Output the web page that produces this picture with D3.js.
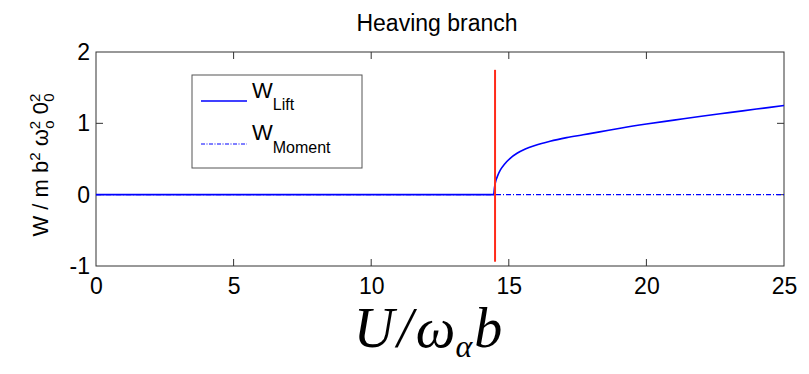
<!DOCTYPE html>
<html>
<head>
<meta charset="utf-8">
<script src="https://cdn.jsdelivr.net/npm/d3@7"></script>
<style>
  body { margin: 0; background: #fff; }
  text { font-family: "Liberation Sans", Arial, sans-serif; fill: #000; }
  text.math { font-family: "Liberation Serif", "Times New Roman", serif; font-style: italic; }
</style>
</head>
<body>
<svg id="chart" width="809" height="374"></svg>
<script>
// airspeed values (U / omega_alpha b)
const uValues = [0, 14.45, 14.48, 14.52, 14.6, 14.7, 14.85, 15.05, 15.3, 15.6, 15.95, 16.5, 17.1, 17.7, 18.3, 19.1, 20, 21, 22, 23, 24, 25];
// lift work
const liftValues = [0, 0, 0.1, 0.18, 0.27, 0.35, 0.43, 0.51, 0.58, 0.64, 0.69, 0.75, 0.8, 0.84, 0.88, 0.935, 0.99, 1.045, 1.1, 1.15, 1.2, 1.25];
// moment work
const momentU = [0, 25];
const momentValues = [0, 0];
// critical speed marker
const flutterU = [14.5, 14.5];
const flutterY = [-0.94, 1.75];

const xTicks = [0, 5, 10, 15, 20, 25];
const yTicks = [-1, 0, 1, 2];

const svg = d3.select("#chart");
const M = { left: 96, right: 784, top: 52, bottom: 266 };

const X_SCALE = d3.scaleLinear().domain([0, 25]).range([M.left, M.right]);
const Y_SCALE = d3.scaleLinear().domain([-1, 2]).range([M.bottom, M.top]);

// frame
svg.append("rect")
  .attr("x", M.left).attr("y", M.top)
  .attr("width", M.right - M.left).attr("height", M.bottom - M.top)
  .attr("fill", "none").attr("stroke", "#333").attr("stroke-width", 1);

function drawAxes() {
  const tickLen = 7;
  const fmt = d => String(d);
  const axisBottom = d3.axisBottom(X_SCALE).tickValues(xTicks).tickFormat(fmt).tickSize(0).tickPadding(12);
  const gx = svg.append("g").attr("transform", `translate(0,${M.bottom})`).call(axisBottom);
  gx.select(".domain").remove();
  gx.attr("font-size", 23);

  const axisLeft = d3.axisLeft(Y_SCALE).tickValues(yTicks).tickFormat(fmt).tickSize(0).tickPadding(6);
  const gy = svg.append("g").attr("transform", `translate(${M.left},0)`).call(axisLeft);
  gy.select(".domain").remove();
  gy.attr("font-size", 23);

  // inward ticks on all four sides
  xTicks.filter(t => t > 0 && t < 25).forEach(t => {
    svg.append("line").attr("x1", X_SCALE(t)).attr("x2", X_SCALE(t))
      .attr("y1", M.bottom).attr("y2", M.bottom - tickLen).attr("stroke", "#333");
    svg.append("line").attr("x1", X_SCALE(t)).attr("x2", X_SCALE(t))
      .attr("y1", M.top).attr("y2", M.top + tickLen).attr("stroke", "#333");
  });
  yTicks.filter(t => t > -1 && t < 2).forEach(t => {
    svg.append("line").attr("y1", Y_SCALE(t)).attr("y2", Y_SCALE(t))
      .attr("x1", M.left).attr("x2", M.left + tickLen).attr("stroke", "#333");
    svg.append("line").attr("y1", Y_SCALE(t)).attr("y2", Y_SCALE(t))
      .attr("x1", M.right).attr("x2", M.right - tickLen).attr("stroke", "#333");
  });
}
drawAxes();

const line = d3.line().x(d => X_SCALE(d[0])).y(d => Y_SCALE(d[1]));

// moment (dash-dot)
svg.append("path")
  .datum(d3.zip(momentU, momentValues))
  .attr("d", line)
  .attr("fill", "none").attr("stroke", "#0000ff").attr("stroke-width", 1.2)
  .attr("stroke-dasharray", "5,2,1,2");

// lift
svg.append("path")
  .datum(d3.zip(uValues, liftValues))
  .attr("d", d3.line().x(d => X_SCALE(d[0])).y(d => Y_SCALE(d[1])).curve(d3.curveMonotoneX))
  .attr("fill", "none").attr("stroke", "#0000ff").attr("stroke-width", 1.6);

// flutter speed marker
svg.append("path")
  .datum(d3.zip(flutterU, flutterY))
  .attr("d", line)
  .attr("fill", "none").attr("stroke", "#ff2a1a").attr("stroke-width", 2);

// legend
const lg = svg.append("g");
lg.append("rect").attr("x", 192).attr("y", 75).attr("width", 170).attr("height", 93)
  .attr("fill", "#fff").attr("stroke", "#555").attr("stroke-width", 1);
lg.append("line").attr("x1", 201).attr("x2", 247).attr("y1", 101).attr("y2", 101)
  .attr("stroke", "#0000ff").attr("stroke-width", 1.6);
lg.append("line").attr("x1", 201).attr("x2", 247).attr("y1", 144).attr("y2", 144)
  .attr("stroke", "#0000ff").attr("stroke-width", 1.2).attr("stroke-dasharray", "4,1.5,1,1.5");
const t1 = lg.append("text").attr("x", 252).attr("y", 98).attr("font-size", 22);
t1.append("tspan").text("W");
t1.append("tspan").attr("dy", 12).attr("font-size", 16).text("Lift");
const t2 = lg.append("text").attr("x", 252).attr("y", 140).attr("font-size", 22);
t2.append("tspan").text("W");
t2.append("tspan").attr("dy", 13).attr("font-size", 16).text("Moment");

// title
svg.append("text").attr("x", 437).attr("y", 31).attr("text-anchor", "middle")
  .attr("font-size", 23).text("Heaving branch");

// y label
const yl = svg.append("text")
  .attr("transform", "translate(48,165) rotate(-90)")
  .attr("text-anchor", "middle").attr("font-size", 22);
yl.append("tspan").text("W / m b");
yl.append("tspan").attr("dy", -8).attr("font-size", 15).text("2");
yl.append("tspan").attr("dy", 8).text(" ω");
yl.append("tspan").attr("dy", -8).attr("font-size", 15).text("2");
yl.append("tspan").attr("dx", -8).attr("dy", 14).attr("font-size", 15).text("o");
yl.append("tspan").attr("dy", -6).text(" 0");
yl.append("tspan").attr("dy", -8).attr("font-size", 15).text("2");
yl.append("tspan").attr("dx", -8).attr("dy", 14).attr("font-size", 15).text("0");

// x label
const xl = svg.append("text").attr("class", "math")
  .attr("x", 428).attr("y", 347).attr("text-anchor", "middle")
  .attr("font-size", 56);
xl.append("tspan").text("U");
xl.append("tspan").attr("dx", 3).text("/");
xl.append("tspan").attr("dx", 3).text("ω");
xl.append("tspan").attr("dy", 10).attr("font-size", 32).text("α");
xl.append("tspan").attr("dx", 2).attr("dy", -10).text("b");
</script>
</body>
</html>
